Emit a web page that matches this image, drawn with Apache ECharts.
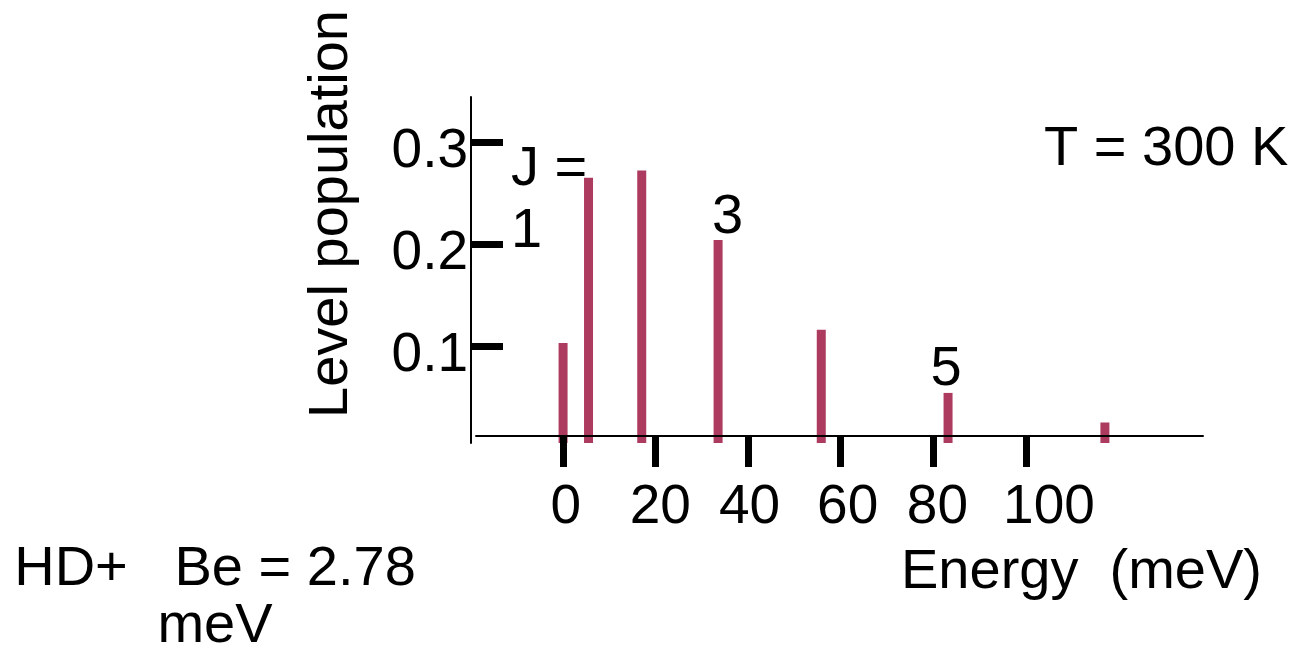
<!DOCTYPE html>
<html>
<head>
<meta charset="utf-8">
<script src="https://cdn.jsdelivr.net/npm/echarts@6/dist/echarts.min.js"></script>
<style>
html,body{margin:0;padding:0;background:#fff;}
#chart{width:1300px;height:655px;}
</style>
</head>
<body>
<div id="chart"></div>
<script>
// ---- data ----
const levelJ      = [0, 1, 2, 3, 4, 5, 6];
const energyMeV   = [0, 5.5, 17.0, 33.5, 55.8, 83.2, 117.1];
const population  = [0.103, 0.265, 0.272, 0.204, 0.116, 0.054, 0.025];
const labelledJ   = [3, 5];
const xTickValues = [0, 20, 40, 60, 80, 100];
const xTickLabels = ['0', '20', '40', '60', '80', '100'];
const yTickValues = [0.1, 0.2, 0.3];
const yTickLabels = ['0.1', '0.2', '0.3'];

// ---- layout: where the reference places its x tick labels (axis units) ----
const xLabelAnchors = [0.6, 21, 40.3, 61.5, 80.9, 105];

const FONT = '"Liberation Sans", Arial, sans-serif';
const BIG = 56;
const labelTweaks = { 3: { offset: [9.5, 0], distance: -6 }, 5: { offset: [-2, 0], distance: -5 } };

const barData = levelJ.map((j, i) => {
  const item = { value: [energyMeV[i], population[i]] };
  if (labelledJ.includes(j)) {
    item.label = Object.assign({
      show: true, position: 'top', formatter: String(j),
      fontSize: BIG, fontFamily: FONT, color: '#000'
    }, labelTweaks[j]);
  }
  return item;
});

const chart = echarts.init(document.getElementById('chart'), null, { renderer: 'canvas' });

const textEl = (text, x, y, align, extra) => Object.assign({
  type: 'text', x: x, y: y, silent: true,
  style: {
    text: text, font: BIG + 'px ' + FONT, fill: '#000',
    align: align, verticalAlign: 'middle',
    textAlign: align, textVerticalAlign: 'middle'
  }
}, extra || {});

chart.setOption({
  animation: false,
  backgroundColor: '#fff',
  grid: { left: 476, top: 97, width: 727, height: 346, containLabel: false },
  xAxis: {
    type: 'value', min: -18.82, max: 138.3, position: 'bottom', offset: -7, z: 3,
    axisLine: { show: true, onZero: false, lineStyle: { color: '#000', width: 2 } },
    axisTick: { show: true, customValues: xTickValues, length: 31, lineStyle: { color: '#000', width: 7 } },
    axisLabel: {
      show: true, customValues: xLabelAnchors,
      formatter: v => xTickLabels[xLabelAnchors.indexOf(v)],
      fontSize: 55, fontFamily: FONT, color: '#000', margin: 44
    },
    splitLine: { show: false }
  },
  yAxis: {
    type: 'value', min: 0.0049, max: 0.3441, position: 'left', offset: 5,
    axisLine: { show: true, onZero: false, lineStyle: { color: '#000', width: 2 } },
    axisTick: { show: true, inside: true, customValues: yTickValues, length: 32, lineStyle: { color: '#000', width: 7 } },
    axisLabel: {
      show: true, customValues: yTickValues,
      formatter: v => yTickLabels[yTickValues.indexOf(v)],
      fontSize: 55, fontFamily: FONT, color: '#000', margin: 3,
      verticalAlign: 'top', lineHeight: 20
    },
    splitLine: { show: false }
  },
  series: [{
    type: 'bar', data: barData, barWidth: 9, clip: true,
    itemStyle: { color: '#ad3b5f' }
  }],
  graphic: { elements: [
    textEl('Level population', 331.5, 214, 'center', { rotation: Math.PI / 2 }),
    textEl('J =', 511, 170, 'left'),
    textEl('1', 511, 232, 'left'),
    textEl('T = 300 K', 1044, 150, 'left'),
    textEl('Energy  (meV)', 901, 573, 'left'),
    textEl('HD+   Be = 2.78', 215, 570, 'center'),
    textEl('meV', 215, 626.5, 'center')
  ]}
});
</script>
</body>
</html>
